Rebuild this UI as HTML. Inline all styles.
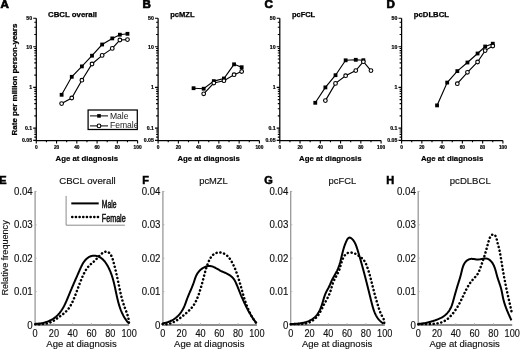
<!DOCTYPE html>
<html><head><meta charset="utf-8"><style>html,body{margin:0;padding:0;background:#fff;}svg{display:block;will-change:transform;}text{font-family:"Liberation Sans",sans-serif;}</style></head><body>
<svg xmlns="http://www.w3.org/2000/svg" width="520" height="350" viewBox="0 0 520 350">
<rect width="520" height="350" fill="#fff"/>
<path d="M36.3,18.25 V140.5 H137.6" fill="none" stroke="#000" stroke-width="1.25"/>
<path d="M36.3,18.25 h-3.1 M36.3,46.7 h-3.1 M36.3,87.4 h-3.1 M36.3,128.1 h-3.1 M36.3,140.35 h-3.1 M36.3,137.13 h-2 M36.3,134.4 h-2 M36.3,132.04 h-2 M36.3,129.96 h-2 M36.3,115.85 h-2 M36.3,108.68 h-2 M36.3,103.6 h-2 M36.3,99.65 h-2 M36.3,96.43 h-2 M36.3,93.7 h-2 M36.3,91.34 h-2 M36.3,89.26 h-2 M36.3,75.15 h-2 M36.3,67.98 h-2 M36.3,62.9 h-2 M36.3,58.95 h-2 M36.3,55.73 h-2 M36.3,53 h-2 M36.3,50.64 h-2 M36.3,48.56 h-2 M36.3,34.45 h-2 M36.3,27.28 h-2 M36.3,22.2 h-2 M36.3,140.5 v3 M46.43,140.5 v1.8 M56.56,140.5 v3 M66.69,140.5 v1.8 M76.82,140.5 v3 M86.95,140.5 v1.8 M97.08,140.5 v3 M107.21,140.5 v1.8 M117.34,140.5 v3 M127.47,140.5 v1.8 M137.6,140.5 v3" fill="none" stroke="#000" stroke-width="1.1"/>
<text x="32.1" y="20.05" font-size="5.2" font-weight="bold" stroke="#000" stroke-width="0.2" text-anchor="end">50</text>
<text x="32.1" y="48.5" font-size="5.2" font-weight="bold" stroke="#000" stroke-width="0.2" text-anchor="end">10</text>
<text x="32.1" y="89.2" font-size="5.2" font-weight="bold" stroke="#000" stroke-width="0.2" text-anchor="end">1</text>
<text x="32.1" y="129.9" font-size="5.2" font-weight="bold" stroke="#000" stroke-width="0.2" text-anchor="end">0.1</text>
<text x="32.1" y="142.15" font-size="5.2" font-weight="bold" stroke="#000" stroke-width="0.2" text-anchor="end">0.05</text>
<text x="36.3" y="148.5" font-size="4.8" font-weight="bold" stroke="#000" stroke-width="0.2" text-anchor="middle">0</text>
<text x="56.56" y="148.5" font-size="4.8" font-weight="bold" stroke="#000" stroke-width="0.2" text-anchor="middle">20</text>
<text x="76.82" y="148.5" font-size="4.8" font-weight="bold" stroke="#000" stroke-width="0.2" text-anchor="middle">40</text>
<text x="97.08" y="148.5" font-size="4.8" font-weight="bold" stroke="#000" stroke-width="0.2" text-anchor="middle">60</text>
<text x="117.34" y="148.5" font-size="4.8" font-weight="bold" stroke="#000" stroke-width="0.2" text-anchor="middle">80</text>
<text x="137.6" y="148.5" font-size="4.8" font-weight="bold" stroke="#000" stroke-width="0.2" text-anchor="middle">100</text>
<text x="86.8" y="161.2" font-size="7.8" font-weight="bold" stroke="#000" stroke-width="0.18" text-anchor="middle">Age at diagnosis</text>
<text x="48" y="17.1" font-size="7.6" font-weight="bold" stroke="#000" stroke-width="0.25" textLength="49" lengthAdjust="spacingAndGlyphs">CBCL overall</text>
<polyline points="61.62,94.8 71.75,76.8 81.88,66.4 92.01,55.7 102.14,44.5 112.27,38.4 119.87,34.7 127.47,33.8" fill="none" stroke="#000" stroke-width="1.15"/>
<polyline points="61.62,103.6 71.75,98 81.88,80.2 92.01,64 102.14,55.4 112.27,48.4 119.87,40 127.47,39.6" fill="none" stroke="#000" stroke-width="1.15"/>
<rect x="59.72" y="92.9" width="3.8" height="3.8" fill="#000"/>
<rect x="69.85" y="74.9" width="3.8" height="3.8" fill="#000"/>
<rect x="79.98" y="64.5" width="3.8" height="3.8" fill="#000"/>
<rect x="90.11" y="53.8" width="3.8" height="3.8" fill="#000"/>
<rect x="100.24" y="42.6" width="3.8" height="3.8" fill="#000"/>
<rect x="110.37" y="36.5" width="3.8" height="3.8" fill="#000"/>
<rect x="117.97" y="32.8" width="3.8" height="3.8" fill="#000"/>
<rect x="125.57" y="31.9" width="3.8" height="3.8" fill="#000"/>
<circle cx="61.62" cy="103.6" r="1.85" fill="#fff" stroke="#000" stroke-width="1.1"/>
<circle cx="71.75" cy="98" r="1.85" fill="#fff" stroke="#000" stroke-width="1.1"/>
<circle cx="81.88" cy="80.2" r="1.85" fill="#fff" stroke="#000" stroke-width="1.1"/>
<circle cx="92.01" cy="64" r="1.85" fill="#fff" stroke="#000" stroke-width="1.1"/>
<circle cx="102.14" cy="55.4" r="1.85" fill="#fff" stroke="#000" stroke-width="1.1"/>
<circle cx="112.27" cy="48.4" r="1.85" fill="#fff" stroke="#000" stroke-width="1.1"/>
<circle cx="119.87" cy="40" r="1.85" fill="#fff" stroke="#000" stroke-width="1.1"/>
<circle cx="127.47" cy="39.6" r="1.85" fill="#fff" stroke="#000" stroke-width="1.1"/>
<path d="M158.1,18.25 V140.5 H259.4" fill="none" stroke="#000" stroke-width="1.25"/>
<path d="M158.1,18.25 h-3.1 M158.1,46.7 h-3.1 M158.1,87.4 h-3.1 M158.1,128.1 h-3.1 M158.1,140.35 h-3.1 M158.1,137.13 h-2 M158.1,134.4 h-2 M158.1,132.04 h-2 M158.1,129.96 h-2 M158.1,115.85 h-2 M158.1,108.68 h-2 M158.1,103.6 h-2 M158.1,99.65 h-2 M158.1,96.43 h-2 M158.1,93.7 h-2 M158.1,91.34 h-2 M158.1,89.26 h-2 M158.1,75.15 h-2 M158.1,67.98 h-2 M158.1,62.9 h-2 M158.1,58.95 h-2 M158.1,55.73 h-2 M158.1,53 h-2 M158.1,50.64 h-2 M158.1,48.56 h-2 M158.1,34.45 h-2 M158.1,27.28 h-2 M158.1,22.2 h-2 M158.1,140.5 v3 M168.23,140.5 v1.8 M178.36,140.5 v3 M188.49,140.5 v1.8 M198.62,140.5 v3 M208.75,140.5 v1.8 M218.88,140.5 v3 M229.01,140.5 v1.8 M239.14,140.5 v3 M249.27,140.5 v1.8 M259.4,140.5 v3" fill="none" stroke="#000" stroke-width="1.1"/>
<text x="153.9" y="20.05" font-size="5.2" font-weight="bold" stroke="#000" stroke-width="0.2" text-anchor="end">50</text>
<text x="153.9" y="48.5" font-size="5.2" font-weight="bold" stroke="#000" stroke-width="0.2" text-anchor="end">10</text>
<text x="153.9" y="89.2" font-size="5.2" font-weight="bold" stroke="#000" stroke-width="0.2" text-anchor="end">1</text>
<text x="153.9" y="129.9" font-size="5.2" font-weight="bold" stroke="#000" stroke-width="0.2" text-anchor="end">0.1</text>
<text x="153.9" y="142.15" font-size="5.2" font-weight="bold" stroke="#000" stroke-width="0.2" text-anchor="end">0.05</text>
<text x="158.1" y="148.5" font-size="4.8" font-weight="bold" stroke="#000" stroke-width="0.2" text-anchor="middle">0</text>
<text x="178.36" y="148.5" font-size="4.8" font-weight="bold" stroke="#000" stroke-width="0.2" text-anchor="middle">20</text>
<text x="198.62" y="148.5" font-size="4.8" font-weight="bold" stroke="#000" stroke-width="0.2" text-anchor="middle">40</text>
<text x="218.88" y="148.5" font-size="4.8" font-weight="bold" stroke="#000" stroke-width="0.2" text-anchor="middle">60</text>
<text x="239.14" y="148.5" font-size="4.8" font-weight="bold" stroke="#000" stroke-width="0.2" text-anchor="middle">80</text>
<text x="259.4" y="148.5" font-size="4.8" font-weight="bold" stroke="#000" stroke-width="0.2" text-anchor="middle">100</text>
<text x="208.6" y="161.2" font-size="7.8" font-weight="bold" stroke="#000" stroke-width="0.18" text-anchor="middle">Age at diagnosis</text>
<text x="170.2" y="17.1" font-size="7.6" font-weight="bold" stroke="#000" stroke-width="0.25" textLength="24.4" lengthAdjust="spacingAndGlyphs">pcMZL</text>
<polyline points="193.56,88.2 203.69,88.7 213.81,81.1 223.94,78.5 234.07,64.3 241.67,67.2" fill="none" stroke="#000" stroke-width="1.15"/>
<polyline points="203.69,93.8 213.81,83 223.94,80.7 234.07,74.7 241.67,71.5" fill="none" stroke="#000" stroke-width="1.15"/>
<rect x="191.66" y="86.3" width="3.8" height="3.8" fill="#000"/>
<rect x="201.78" y="86.8" width="3.8" height="3.8" fill="#000"/>
<rect x="211.91" y="79.2" width="3.8" height="3.8" fill="#000"/>
<rect x="222.04" y="76.6" width="3.8" height="3.8" fill="#000"/>
<rect x="232.17" y="62.4" width="3.8" height="3.8" fill="#000"/>
<rect x="239.77" y="65.3" width="3.8" height="3.8" fill="#000"/>
<circle cx="203.69" cy="93.8" r="1.85" fill="#fff" stroke="#000" stroke-width="1.1"/>
<circle cx="213.81" cy="83" r="1.85" fill="#fff" stroke="#000" stroke-width="1.1"/>
<circle cx="223.94" cy="80.7" r="1.85" fill="#fff" stroke="#000" stroke-width="1.1"/>
<circle cx="234.07" cy="74.7" r="1.85" fill="#fff" stroke="#000" stroke-width="1.1"/>
<circle cx="241.67" cy="71.5" r="1.85" fill="#fff" stroke="#000" stroke-width="1.1"/>
<path d="M279.8,18.25 V140.5 H381.1" fill="none" stroke="#000" stroke-width="1.25"/>
<path d="M279.8,18.25 h-3.1 M279.8,46.7 h-3.1 M279.8,87.4 h-3.1 M279.8,128.1 h-3.1 M279.8,140.35 h-3.1 M279.8,137.13 h-2 M279.8,134.4 h-2 M279.8,132.04 h-2 M279.8,129.96 h-2 M279.8,115.85 h-2 M279.8,108.68 h-2 M279.8,103.6 h-2 M279.8,99.65 h-2 M279.8,96.43 h-2 M279.8,93.7 h-2 M279.8,91.34 h-2 M279.8,89.26 h-2 M279.8,75.15 h-2 M279.8,67.98 h-2 M279.8,62.9 h-2 M279.8,58.95 h-2 M279.8,55.73 h-2 M279.8,53 h-2 M279.8,50.64 h-2 M279.8,48.56 h-2 M279.8,34.45 h-2 M279.8,27.28 h-2 M279.8,22.2 h-2 M279.8,140.5 v3 M289.93,140.5 v1.8 M300.06,140.5 v3 M310.19,140.5 v1.8 M320.32,140.5 v3 M330.45,140.5 v1.8 M340.58,140.5 v3 M350.71,140.5 v1.8 M360.84,140.5 v3 M370.97,140.5 v1.8 M381.1,140.5 v3" fill="none" stroke="#000" stroke-width="1.1"/>
<text x="275.6" y="20.05" font-size="5.2" font-weight="bold" stroke="#000" stroke-width="0.2" text-anchor="end">50</text>
<text x="275.6" y="48.5" font-size="5.2" font-weight="bold" stroke="#000" stroke-width="0.2" text-anchor="end">10</text>
<text x="275.6" y="89.2" font-size="5.2" font-weight="bold" stroke="#000" stroke-width="0.2" text-anchor="end">1</text>
<text x="275.6" y="129.9" font-size="5.2" font-weight="bold" stroke="#000" stroke-width="0.2" text-anchor="end">0.1</text>
<text x="275.6" y="142.15" font-size="5.2" font-weight="bold" stroke="#000" stroke-width="0.2" text-anchor="end">0.05</text>
<text x="279.8" y="148.5" font-size="4.8" font-weight="bold" stroke="#000" stroke-width="0.2" text-anchor="middle">0</text>
<text x="300.06" y="148.5" font-size="4.8" font-weight="bold" stroke="#000" stroke-width="0.2" text-anchor="middle">20</text>
<text x="320.32" y="148.5" font-size="4.8" font-weight="bold" stroke="#000" stroke-width="0.2" text-anchor="middle">40</text>
<text x="340.58" y="148.5" font-size="4.8" font-weight="bold" stroke="#000" stroke-width="0.2" text-anchor="middle">60</text>
<text x="360.84" y="148.5" font-size="4.8" font-weight="bold" stroke="#000" stroke-width="0.2" text-anchor="middle">80</text>
<text x="381.1" y="148.5" font-size="4.8" font-weight="bold" stroke="#000" stroke-width="0.2" text-anchor="middle">100</text>
<text x="330.3" y="161.2" font-size="7.8" font-weight="bold" stroke="#000" stroke-width="0.18" text-anchor="middle">Age at diagnosis</text>
<text x="291.9" y="17.1" font-size="7.6" font-weight="bold" stroke="#000" stroke-width="0.25" textLength="23.3" lengthAdjust="spacingAndGlyphs">pcFCL</text>
<polyline points="315.25,102.8 325.38,87.4 335.51,75.2 345.64,60.3 355.77,59.8 363.37,60.2" fill="none" stroke="#000" stroke-width="1.15"/>
<polyline points="325.38,100.6 335.51,83.4 345.64,75.7 355.77,70.6 363.37,61.7 370.97,70.6" fill="none" stroke="#000" stroke-width="1.15"/>
<rect x="313.36" y="100.9" width="3.8" height="3.8" fill="#000"/>
<rect x="323.49" y="85.5" width="3.8" height="3.8" fill="#000"/>
<rect x="333.62" y="73.3" width="3.8" height="3.8" fill="#000"/>
<rect x="343.75" y="58.4" width="3.8" height="3.8" fill="#000"/>
<rect x="353.88" y="57.9" width="3.8" height="3.8" fill="#000"/>
<rect x="361.47" y="58.3" width="3.8" height="3.8" fill="#000"/>
<circle cx="325.38" cy="100.6" r="1.85" fill="#fff" stroke="#000" stroke-width="1.1"/>
<circle cx="335.51" cy="83.4" r="1.85" fill="#fff" stroke="#000" stroke-width="1.1"/>
<circle cx="345.64" cy="75.7" r="1.85" fill="#fff" stroke="#000" stroke-width="1.1"/>
<circle cx="355.77" cy="70.6" r="1.85" fill="#fff" stroke="#000" stroke-width="1.1"/>
<circle cx="363.37" cy="61.7" r="1.85" fill="#fff" stroke="#000" stroke-width="1.1"/>
<circle cx="370.97" cy="70.6" r="1.85" fill="#fff" stroke="#000" stroke-width="1.1"/>
<path d="M401.6,18.25 V140.5 H502.9" fill="none" stroke="#000" stroke-width="1.25"/>
<path d="M401.6,18.25 h-3.1 M401.6,46.7 h-3.1 M401.6,87.4 h-3.1 M401.6,128.1 h-3.1 M401.6,140.35 h-3.1 M401.6,137.13 h-2 M401.6,134.4 h-2 M401.6,132.04 h-2 M401.6,129.96 h-2 M401.6,115.85 h-2 M401.6,108.68 h-2 M401.6,103.6 h-2 M401.6,99.65 h-2 M401.6,96.43 h-2 M401.6,93.7 h-2 M401.6,91.34 h-2 M401.6,89.26 h-2 M401.6,75.15 h-2 M401.6,67.98 h-2 M401.6,62.9 h-2 M401.6,58.95 h-2 M401.6,55.73 h-2 M401.6,53 h-2 M401.6,50.64 h-2 M401.6,48.56 h-2 M401.6,34.45 h-2 M401.6,27.28 h-2 M401.6,22.2 h-2 M401.6,140.5 v3 M411.73,140.5 v1.8 M421.86,140.5 v3 M431.99,140.5 v1.8 M442.12,140.5 v3 M452.25,140.5 v1.8 M462.38,140.5 v3 M472.51,140.5 v1.8 M482.64,140.5 v3 M492.77,140.5 v1.8 M502.9,140.5 v3" fill="none" stroke="#000" stroke-width="1.1"/>
<text x="397.4" y="20.05" font-size="5.2" font-weight="bold" stroke="#000" stroke-width="0.2" text-anchor="end">50</text>
<text x="397.4" y="48.5" font-size="5.2" font-weight="bold" stroke="#000" stroke-width="0.2" text-anchor="end">10</text>
<text x="397.4" y="89.2" font-size="5.2" font-weight="bold" stroke="#000" stroke-width="0.2" text-anchor="end">1</text>
<text x="397.4" y="129.9" font-size="5.2" font-weight="bold" stroke="#000" stroke-width="0.2" text-anchor="end">0.1</text>
<text x="397.4" y="142.15" font-size="5.2" font-weight="bold" stroke="#000" stroke-width="0.2" text-anchor="end">0.05</text>
<text x="401.6" y="148.5" font-size="4.8" font-weight="bold" stroke="#000" stroke-width="0.2" text-anchor="middle">0</text>
<text x="421.86" y="148.5" font-size="4.8" font-weight="bold" stroke="#000" stroke-width="0.2" text-anchor="middle">20</text>
<text x="442.12" y="148.5" font-size="4.8" font-weight="bold" stroke="#000" stroke-width="0.2" text-anchor="middle">40</text>
<text x="462.38" y="148.5" font-size="4.8" font-weight="bold" stroke="#000" stroke-width="0.2" text-anchor="middle">60</text>
<text x="482.64" y="148.5" font-size="4.8" font-weight="bold" stroke="#000" stroke-width="0.2" text-anchor="middle">80</text>
<text x="502.9" y="148.5" font-size="4.8" font-weight="bold" stroke="#000" stroke-width="0.2" text-anchor="middle">100</text>
<text x="452.1" y="161.2" font-size="7.8" font-weight="bold" stroke="#000" stroke-width="0.18" text-anchor="middle">Age at diagnosis</text>
<text x="413.8" y="17.1" font-size="7.6" font-weight="bold" stroke="#000" stroke-width="0.25" textLength="35.2" lengthAdjust="spacingAndGlyphs">pcDLBCL</text>
<polyline points="437.06,105.4 447.19,82.6 457.31,71.1 467.45,62.5 477.58,53.5 485.17,46.5 492.77,43.7" fill="none" stroke="#000" stroke-width="1.15"/>
<polyline points="457.31,83.7 467.45,72.3 477.58,62 485.17,50.6 492.77,46" fill="none" stroke="#000" stroke-width="1.15"/>
<rect x="435.16" y="103.5" width="3.8" height="3.8" fill="#000"/>
<rect x="445.29" y="80.7" width="3.8" height="3.8" fill="#000"/>
<rect x="455.42" y="69.2" width="3.8" height="3.8" fill="#000"/>
<rect x="465.55" y="60.6" width="3.8" height="3.8" fill="#000"/>
<rect x="475.68" y="51.6" width="3.8" height="3.8" fill="#000"/>
<rect x="483.27" y="44.6" width="3.8" height="3.8" fill="#000"/>
<rect x="490.87" y="41.8" width="3.8" height="3.8" fill="#000"/>
<circle cx="457.31" cy="83.7" r="1.85" fill="#fff" stroke="#000" stroke-width="1.1"/>
<circle cx="467.45" cy="72.3" r="1.85" fill="#fff" stroke="#000" stroke-width="1.1"/>
<circle cx="477.58" cy="62" r="1.85" fill="#fff" stroke="#000" stroke-width="1.1"/>
<circle cx="485.17" cy="50.6" r="1.85" fill="#fff" stroke="#000" stroke-width="1.1"/>
<circle cx="492.77" cy="46" r="1.85" fill="#fff" stroke="#000" stroke-width="1.1"/>
<text x="0.6" y="8.2" font-size="11.6" font-weight="bold" stroke="#000" stroke-width="0.7">A</text>
<text x="142.5" y="8.2" font-size="11.6" font-weight="bold" stroke="#000" stroke-width="0.7">B</text>
<text x="264.5" y="8.2" font-size="11.6" font-weight="bold" stroke="#000" stroke-width="0.7">C</text>
<text x="386.6" y="8.2" font-size="11.6" font-weight="bold" stroke="#000" stroke-width="0.7">D</text>
<text transform="translate(16.7,135.4) rotate(-90)" font-size="8" font-weight="bold" stroke="#000" stroke-width="0.25" textLength="111.7" lengthAdjust="spacingAndGlyphs">Rate per million person-years</text>
<rect x="88.1" y="110" width="49.2" height="19.5" fill="#fff" stroke="#000" stroke-width="1.25"/>
<path d="M90,115.9 H108 M90,125.9 H108" stroke="#000" stroke-width="1"/>
<rect x="97.2" y="114.1" width="3.6" height="3.6" fill="#000"/>
<circle cx="99" cy="125.9" r="1.85" fill="#fff" stroke="#000" stroke-width="1.1"/>
<text x="109.9" y="118.5" font-size="8.6" fill="#222">Male</text>
<text x="109.9" y="127.9" font-size="8.6" fill="#222">Female</text>
<path d="M35.1,191.1 V325" fill="none" stroke="#999" stroke-width="1.3"/>
<path d="M34.5,325 H129.1" fill="none" stroke="#6a6a6a" stroke-width="1.3"/>
<path d="M53.9,325 v-2 M72.7,325 v-2 M91.5,325 v-2 M110.3,325 v-2 M35.1,291.6 h1.6 M35.1,258.2 h1.6 M35.1,224.8 h1.6 M35.1,191.4 h1.6" fill="none" stroke="#aaa" stroke-width="0.8"/>
<text x="27.32" y="328.6" font-size="10.4" fill="#111" stroke="#111" stroke-width="0.15" textLength="5.38" lengthAdjust="spacingAndGlyphs">0</text>
<text x="13.88" y="295.2" font-size="10.4" fill="#111" stroke="#111" stroke-width="0.15" textLength="18.82" lengthAdjust="spacingAndGlyphs">0.01</text>
<text x="13.88" y="261.8" font-size="10.4" fill="#111" stroke="#111" stroke-width="0.15" textLength="18.82" lengthAdjust="spacingAndGlyphs">0.02</text>
<text x="13.88" y="228.4" font-size="10.4" fill="#111" stroke="#111" stroke-width="0.15" textLength="18.82" lengthAdjust="spacingAndGlyphs">0.03</text>
<text x="13.88" y="195" font-size="10.4" fill="#111" stroke="#111" stroke-width="0.15" textLength="18.82" lengthAdjust="spacingAndGlyphs">0.04</text>
<text x="32.56" y="336.6" font-size="10.4" fill="#111" stroke="#111" stroke-width="0.15" textLength="5.09" lengthAdjust="spacingAndGlyphs">0</text>
<text x="48.81" y="336.6" font-size="10.4" fill="#111" stroke="#111" stroke-width="0.15" textLength="10.18" lengthAdjust="spacingAndGlyphs">20</text>
<text x="67.61" y="336.6" font-size="10.4" fill="#111" stroke="#111" stroke-width="0.15" textLength="10.18" lengthAdjust="spacingAndGlyphs">40</text>
<text x="86.41" y="336.6" font-size="10.4" fill="#111" stroke="#111" stroke-width="0.15" textLength="10.18" lengthAdjust="spacingAndGlyphs">60</text>
<text x="105.21" y="336.6" font-size="10.4" fill="#111" stroke="#111" stroke-width="0.15" textLength="10.18" lengthAdjust="spacingAndGlyphs">80</text>
<text x="121.47" y="336.6" font-size="10.4" fill="#111" stroke="#111" stroke-width="0.15" textLength="15.27" lengthAdjust="spacingAndGlyphs">100</text>
<text x="46.3" y="347.2" font-size="9.4" fill="#111" stroke="#111" stroke-width="0.15" textLength="70.4" lengthAdjust="spacingAndGlyphs">Age at diagnosis</text>
<text x="59.2" y="183.8" font-size="8.6" fill="#111" stroke="#111" stroke-width="0.15" textLength="56.5" lengthAdjust="spacingAndGlyphs">CBCL overall</text>
<path d="M35.21,323.65 L35.79,323.67 L36.37,323.67 L36.96,323.67 L37.54,323.65 L38.13,323.63 L38.72,323.59 L39.3,323.54 L39.89,323.47 L40.48,323.4 L41.07,323.32 L41.65,323.22 L42.24,323.11 L42.82,323 L43.4,322.87 L43.98,322.73 L44.56,322.58 L45.13,322.41 L45.7,322.24 L46.27,322.06 L46.83,321.87 L47.39,321.66 L47.95,321.45 L48.5,321.22 L49.05,320.99 L49.59,320.74 L50.13,320.48 L50.66,320.22 L51.18,319.94 L51.7,319.66 L52.21,319.36 L52.72,319.05 L53.22,318.74 L53.71,318.41 L54.19,318.08 L54.67,317.74 L55.14,317.38 L55.59,317.02 L56.04,316.65 L56.48,316.26 L56.91,315.87 L57.34,315.47 L57.75,315.06 L58.15,314.65 L58.54,314.22 L58.93,313.79 L59.31,313.34 L59.67,312.89 L60.04,312.44 L60.39,311.97 L60.73,311.5 L61.07,311.03 L61.4,310.54 L61.72,310.05 L62.04,309.56 L62.35,309.06 L62.66,308.55 L62.95,308.04 L63.25,307.53 L63.54,307.01 L63.82,306.48 L64.09,305.96 L64.37,305.43 L64.63,304.89 L64.9,304.35 L65.16,303.81 L65.41,303.27 L65.66,302.72 L65.91,302.18 L66.16,301.63 L66.4,301.08 L66.64,300.52 L66.88,299.97 L67.11,299.42 L67.34,298.86 L67.57,298.31 L67.8,297.75 L68.03,297.2 L68.26,296.64 L68.49,296.09 L68.71,295.54 L68.94,294.99 L69.16,294.44 L69.39,293.89 L69.61,293.34 L69.84,292.8 L70.06,292.26 L70.29,291.72 L70.51,291.18 L70.74,290.64 L70.97,290.1 L71.19,289.56 L71.42,289.03 L71.65,288.5 L71.87,287.96 L72.1,287.43 L72.33,286.9 L72.56,286.37 L72.79,285.84 L73.02,285.31 L73.25,284.78 L73.48,284.25 L73.71,283.72 L73.94,283.19 L74.17,282.66 L74.4,282.13 L74.63,281.6 L74.86,281.07 L75.1,280.53 L75.33,280 L75.56,279.47 L75.8,278.93 L76.03,278.4 L76.27,277.86 L76.5,277.33 L76.74,276.79 L76.98,276.25 L77.22,275.71 L77.45,275.16 L77.69,274.62 L77.93,274.07 L78.17,273.52 L78.42,272.97 L78.66,272.42 L78.9,271.87 L79.14,271.31 L79.39,270.75 L79.63,270.19 L79.88,269.63 L80.13,269.06 L80.38,268.5 L80.63,267.93 L80.89,267.37 L81.15,266.81 L81.42,266.26 L81.69,265.71 L81.97,265.16 L82.26,264.62 L82.55,264.09 L82.86,263.57 L83.17,263.05 L83.49,262.54 L83.82,262.05 L84.16,261.56 L84.51,261.09 L84.88,260.63 L85.25,260.18 L85.64,259.75 L86.05,259.33 L86.46,258.93 L86.9,258.54 L87.34,258.18 L87.8,257.83 L88.28,257.51 L88.76,257.2 L89.25,256.93 L89.76,256.67 L90.27,256.44 L90.8,256.24 L91.33,256.07 L91.86,255.93 L92.41,255.82 L92.95,255.75 L93.51,255.7 L94.06,255.69 L94.62,255.7 L95.17,255.75 L95.73,255.82 L96.29,255.92 L96.84,256.05 L97.39,256.21 L97.94,256.39 L98.48,256.6 L99.01,256.83 L99.53,257.09 L100.05,257.37 L100.56,257.67 L101.05,257.99 L101.53,258.34 L102,258.7 L102.46,259.08 L102.9,259.49 L103.33,259.91 L103.74,260.34 L104.14,260.79 L104.53,261.26 L104.91,261.73 L105.27,262.22 L105.63,262.71 L105.97,263.22 L106.31,263.73 L106.63,264.24 L106.95,264.76 L107.26,265.28 L107.56,265.81 L107.85,266.33 L108.14,266.86 L108.42,267.39 L108.69,267.92 L108.95,268.45 L109.21,268.99 L109.46,269.52 L109.7,270.06 L109.94,270.6 L110.17,271.14 L110.4,271.69 L110.62,272.23 L110.83,272.78 L111.04,273.33 L111.24,273.88 L111.44,274.43 L111.64,274.98 L111.82,275.53 L112.01,276.09 L112.19,276.65 L112.36,277.2 L112.53,277.76 L112.7,278.33 L112.86,278.89 L113.02,279.45 L113.18,280.02 L113.33,280.58 L113.48,281.15 L113.63,281.72 L113.77,282.29 L113.92,282.86 L114.06,283.43 L114.19,284.01 L114.33,284.58 L114.46,285.16 L114.59,285.73 L114.72,286.31 L114.85,286.89 L114.98,287.47 L115.1,288.05 L115.23,288.63 L115.35,289.21 L115.48,289.79 L115.6,290.38 L115.72,290.96 L115.84,291.54 L115.97,292.12 L116.09,292.71 L116.21,293.29 L116.34,293.87 L116.46,294.45 L116.59,295.04 L116.72,295.62 L116.84,296.2 L116.97,296.78 L117.11,297.36 L117.24,297.94 L117.37,298.52 L117.51,299.1 L117.65,299.67 L117.79,300.25 L117.93,300.83 L118.08,301.4 L118.23,301.97 L118.38,302.54 L118.54,303.11 L118.7,303.68 L118.86,304.25 L119.03,304.81 L119.2,305.38 L119.37,305.94 L119.55,306.5 L119.73,307.06 L119.92,307.61 L120.11,308.17 L120.31,308.72 L120.51,309.27 L120.72,309.81 L120.93,310.36 L121.15,310.9 L121.37,311.44 L121.6,311.97 L121.83,312.51 L122.08,313.04 L122.32,313.56 L122.58,314.09 L122.84,314.61 L123.11,315.13 L123.38,315.64 L123.66,316.16 L123.95,316.66 L124.25,317.17 L124.55,317.67 L124.87,318.17 L125.19,318.66 L125.52,319.15 L125.85,319.64 L126.2,320.12 L126.55,320.59 L126.91,321.07 L127.28,321.54 L127.67,322 L128.06,322.46 L128.45,322.92 L128.86,323.37" fill="none" stroke="#000" stroke-width="2"/>
<path d="M35.21,324.31 L35.81,324.28 L36.41,324.26 L37.02,324.24 L37.63,324.22 L38.25,324.21 L38.88,324.19 L39.51,324.17 L40.14,324.15 L40.77,324.12 L41.41,324.09 L42.04,324.06 L42.68,324.01 L43.31,323.96 L43.95,323.9 L44.58,323.84 L45.21,323.75 L45.83,323.66 L46.46,323.56 L47.07,323.44 L47.68,323.3 L48.28,323.15 L48.88,322.98 L49.47,322.8 L50.05,322.59 L50.61,322.36 L51.17,322.12 L51.72,321.85 L52.27,321.57 L52.8,321.27 L53.33,320.95 L53.85,320.63 L54.37,320.29 L54.88,319.95 L55.4,319.59 L55.9,319.23 L56.41,318.87 L56.92,318.51 L57.43,318.14 L57.94,317.77 L58.45,317.41 L58.96,317.05 L59.48,316.68 L59.99,316.32 L60.5,315.95 L61.01,315.58 L61.51,315.21 L62.02,314.84 L62.51,314.46 L63.01,314.08 L63.5,313.69 L63.98,313.3 L64.46,312.9 L64.92,312.5 L65.38,312.09 L65.84,311.67 L66.28,311.24 L66.71,310.8 L67.13,310.36 L67.54,309.9 L67.94,309.43 L68.33,308.95 L68.7,308.46 L69.06,307.96 L69.41,307.46 L69.76,306.94 L70.09,306.41 L70.41,305.88 L70.72,305.34 L71.03,304.8 L71.32,304.24 L71.61,303.69 L71.89,303.13 L72.17,302.56 L72.44,301.99 L72.7,301.42 L72.96,300.84 L73.21,300.27 L73.46,299.69 L73.71,299.11 L73.95,298.53 L74.19,297.95 L74.43,297.38 L74.66,296.8 L74.89,296.22 L75.12,295.64 L75.35,295.06 L75.57,294.48 L75.8,293.9 L76.02,293.32 L76.24,292.75 L76.46,292.17 L76.67,291.59 L76.89,291.01 L77.11,290.43 L77.32,289.85 L77.54,289.27 L77.75,288.69 L77.97,288.12 L78.18,287.54 L78.4,286.96 L78.62,286.38 L78.83,285.8 L79.05,285.22 L79.27,284.64 L79.49,284.06 L79.71,283.48 L79.94,282.9 L80.16,282.32 L80.39,281.74 L80.62,281.17 L80.85,280.59 L81.08,280.01 L81.32,279.43 L81.56,278.85 L81.8,278.27 L82.05,277.69 L82.3,277.11 L82.55,276.53 L82.81,275.95 L83.07,275.37 L83.34,274.79 L83.61,274.21 L83.88,273.64 L84.17,273.07 L84.45,272.51 L84.75,271.95 L85.05,271.4 L85.36,270.85 L85.68,270.31 L86.01,269.78 L86.34,269.26 L86.68,268.75 L87.04,268.24 L87.4,267.75 L87.77,267.27 L88.16,266.8 L88.55,266.34 L88.96,265.9 L89.37,265.47 L89.8,265.05 L90.23,264.63 L90.68,264.23 L91.13,263.83 L91.59,263.44 L92.05,263.05 L92.51,262.65 L92.98,262.26 L93.45,261.86 L93.92,261.45 L94.38,261.04 L94.85,260.61 L95.31,260.18 L95.77,259.73 L96.23,259.26 L96.68,258.79 L97.13,258.3 L97.57,257.81 L98.02,257.31 L98.47,256.82 L98.91,256.33 L99.36,255.84 L99.82,255.37 L100.28,254.9 L100.74,254.46 L101.22,254.03 L101.7,253.63 L102.19,253.25 L102.69,252.9 L103.2,252.58 L103.73,252.29 L104.26,252.05 L104.81,251.85 L105.35,251.71 L105.88,251.63 L106.41,251.61 L106.93,251.66 L107.43,251.78 L107.91,251.98 L108.37,252.23 L108.82,252.55 L109.25,252.92 L109.66,253.34 L110.05,253.8 L110.42,254.3 L110.77,254.83 L111.1,255.39 L111.41,255.96 L111.7,256.56 L111.97,257.16 L112.21,257.77 L112.43,258.38 L112.64,258.99 L112.83,259.6 L113,260.22 L113.17,260.83 L113.34,261.44 L113.5,262.05 L113.66,262.67 L113.82,263.28 L113.98,263.89 L114.14,264.49 L114.29,265.1 L114.45,265.71 L114.6,266.32 L114.75,266.92 L114.9,267.53 L115.05,268.13 L115.2,268.74 L115.35,269.34 L115.5,269.95 L115.64,270.55 L115.79,271.16 L115.93,271.76 L116.07,272.37 L116.21,272.97 L116.35,273.57 L116.49,274.18 L116.63,274.78 L116.77,275.38 L116.9,275.99 L117.04,276.59 L117.17,277.19 L117.31,277.8 L117.44,278.4 L117.57,279.01 L117.7,279.61 L117.83,280.22 L117.96,280.82 L118.09,281.43 L118.22,282.04 L118.35,282.64 L118.48,283.25 L118.6,283.86 L118.73,284.47 L118.86,285.08 L118.98,285.69 L119.11,286.3 L119.24,286.91 L119.36,287.52 L119.49,288.13 L119.62,288.74 L119.75,289.35 L119.88,289.96 L120.01,290.57 L120.14,291.18 L120.27,291.79 L120.41,292.4 L120.54,293.01 L120.68,293.62 L120.82,294.23 L120.96,294.84 L121.11,295.45 L121.25,296.06 L121.4,296.66 L121.56,297.27 L121.71,297.87 L121.87,298.48 L122.03,299.08 L122.19,299.68 L122.36,300.28 L122.53,300.88 L122.71,301.48 L122.89,302.08 L123.07,302.67 L123.26,303.27 L123.45,303.86 L123.65,304.45 L123.85,305.04 L124.06,305.63 L124.27,306.21 L124.48,306.8 L124.7,307.38 L124.92,307.96 L125.14,308.55 L125.37,309.13 L125.59,309.71 L125.82,310.29 L126.04,310.87 L126.26,311.45 L126.48,312.03 L126.69,312.61 L126.9,313.2 L127.11,313.78 L127.31,314.37 L127.5,314.96 L127.68,315.55 L127.86,316.14 L128.02,316.73 L128.18,317.33 L128.33,317.93 L128.46,318.54 L128.58,319.14 L128.69,319.75 L128.79,320.37 L128.87,320.99 L128.93,321.61 L128.98,322.24 L129.01,322.87 L129.03,323.51" fill="none" stroke="#000" stroke-width="2.5" stroke-linecap="round" stroke-dasharray="0.15 3.7"/>
<path d="M162.9,191.1 V325" fill="none" stroke="#999" stroke-width="1.3"/>
<path d="M162.3,325 H256.9" fill="none" stroke="#6a6a6a" stroke-width="1.3"/>
<path d="M181.7,325 v-2 M200.5,325 v-2 M219.3,325 v-2 M238.1,325 v-2 M162.9,291.6 h1.6 M162.9,258.2 h1.6 M162.9,224.8 h1.6 M162.9,191.4 h1.6" fill="none" stroke="#aaa" stroke-width="0.8"/>
<text x="155.12" y="328.6" font-size="10.4" fill="#111" stroke="#111" stroke-width="0.15" textLength="5.38" lengthAdjust="spacingAndGlyphs">0</text>
<text x="141.68" y="295.2" font-size="10.4" fill="#111" stroke="#111" stroke-width="0.15" textLength="18.82" lengthAdjust="spacingAndGlyphs">0.01</text>
<text x="141.68" y="261.8" font-size="10.4" fill="#111" stroke="#111" stroke-width="0.15" textLength="18.82" lengthAdjust="spacingAndGlyphs">0.02</text>
<text x="141.68" y="228.4" font-size="10.4" fill="#111" stroke="#111" stroke-width="0.15" textLength="18.82" lengthAdjust="spacingAndGlyphs">0.03</text>
<text x="141.68" y="195" font-size="10.4" fill="#111" stroke="#111" stroke-width="0.15" textLength="18.82" lengthAdjust="spacingAndGlyphs">0.04</text>
<text x="160.36" y="336.6" font-size="10.4" fill="#111" stroke="#111" stroke-width="0.15" textLength="5.09" lengthAdjust="spacingAndGlyphs">0</text>
<text x="176.61" y="336.6" font-size="10.4" fill="#111" stroke="#111" stroke-width="0.15" textLength="10.18" lengthAdjust="spacingAndGlyphs">20</text>
<text x="195.41" y="336.6" font-size="10.4" fill="#111" stroke="#111" stroke-width="0.15" textLength="10.18" lengthAdjust="spacingAndGlyphs">40</text>
<text x="214.21" y="336.6" font-size="10.4" fill="#111" stroke="#111" stroke-width="0.15" textLength="10.18" lengthAdjust="spacingAndGlyphs">60</text>
<text x="233.01" y="336.6" font-size="10.4" fill="#111" stroke="#111" stroke-width="0.15" textLength="10.18" lengthAdjust="spacingAndGlyphs">80</text>
<text x="249.27" y="336.6" font-size="10.4" fill="#111" stroke="#111" stroke-width="0.15" textLength="15.27" lengthAdjust="spacingAndGlyphs">100</text>
<text x="174.1" y="347.2" font-size="9.4" fill="#111" stroke="#111" stroke-width="0.15" textLength="70.4" lengthAdjust="spacingAndGlyphs">Age at diagnosis</text>
<text x="199.2" y="183.8" font-size="8.6" fill="#111" stroke="#111" stroke-width="0.15" textLength="28.6" lengthAdjust="spacingAndGlyphs">pcMZL</text>
<path d="M162.55,323.33 L163.09,323.25 L163.62,323.16 L164.15,323.07 L164.67,322.97 L165.19,322.85 L165.71,322.73 L166.23,322.6 L166.74,322.45 L167.25,322.3 L167.75,322.14 L168.25,321.98 L168.74,321.8 L169.23,321.61 L169.72,321.41 L170.2,321.21 L170.67,320.99 L171.14,320.77 L171.61,320.54 L172.07,320.29 L172.52,320.04 L172.97,319.78 L173.42,319.52 L173.86,319.24 L174.29,318.95 L174.71,318.66 L175.13,318.35 L175.55,318.04 L175.96,317.72 L176.36,317.39 L176.75,317.05 L177.14,316.71 L177.52,316.35 L177.9,315.99 L178.26,315.61 L178.63,315.23 L178.98,314.84 L179.32,314.45 L179.66,314.04 L180,313.63 L180.32,313.21 L180.64,312.79 L180.95,312.36 L181.25,311.92 L181.55,311.48 L181.84,311.03 L182.12,310.58 L182.39,310.13 L182.66,309.67 L182.92,309.2 L183.17,308.73 L183.42,308.26 L183.66,307.78 L183.89,307.31 L184.11,306.82 L184.32,306.34 L184.53,305.86 L184.74,305.37 L184.93,304.88 L185.12,304.39 L185.31,303.9 L185.49,303.41 L185.67,302.91 L185.85,302.42 L186.02,301.93 L186.2,301.43 L186.37,300.94 L186.54,300.45 L186.71,299.95 L186.89,299.46 L187.06,298.97 L187.24,298.48 L187.42,297.99 L187.61,297.5 L187.8,297.02 L187.99,296.53 L188.18,296.05 L188.38,295.57 L188.58,295.08 L188.78,294.6 L188.98,294.12 L189.19,293.64 L189.4,293.17 L189.6,292.69 L189.81,292.21 L190.02,291.73 L190.23,291.25 L190.44,290.77 L190.65,290.29 L190.86,289.81 L191.07,289.33 L191.28,288.85 L191.48,288.37 L191.69,287.89 L191.89,287.4 L192.09,286.92 L192.29,286.43 L192.49,285.94 L192.68,285.45 L192.87,284.96 L193.06,284.46 L193.24,283.97 L193.42,283.47 L193.6,282.97 L193.77,282.47 L193.94,281.96 L194.1,281.46 L194.27,280.95 L194.44,280.44 L194.6,279.94 L194.77,279.43 L194.94,278.93 L195.12,278.42 L195.3,277.92 L195.49,277.42 L195.68,276.93 L195.89,276.44 L196.1,275.96 L196.32,275.47 L196.56,275 L196.81,274.53 L197.07,274.07 L197.34,273.61 L197.63,273.17 L197.93,272.73 L198.25,272.3 L198.57,271.88 L198.91,271.47 L199.26,271.07 L199.63,270.68 L200,270.3 L200.38,269.93 L200.77,269.58 L201.18,269.24 L201.59,268.92 L202.01,268.6 L202.43,268.31 L202.87,268.03 L203.31,267.76 L203.76,267.51 L204.21,267.28 L204.67,267.07 L205.14,266.87 L205.61,266.7 L206.08,266.54 L206.56,266.4 L207.04,266.28 L207.53,266.19 L208.01,266.11 L208.5,266.06 L208.99,266.03 L209.49,266.02 L209.98,266.04 L210.47,266.08 L210.97,266.15 L211.46,266.24 L211.95,266.35 L212.44,266.5 L212.93,266.66 L213.42,266.85 L213.91,267.06 L214.39,267.28 L214.88,267.52 L215.37,267.77 L215.85,268.03 L216.33,268.31 L216.82,268.58 L217.3,268.87 L217.78,269.15 L218.26,269.44 L218.74,269.73 L219.22,270.01 L219.7,270.28 L220.18,270.55 L220.66,270.81 L221.15,271.05 L221.63,271.29 L222.11,271.51 L222.59,271.72 L223.07,271.93 L223.54,272.13 L224.02,272.33 L224.5,272.52 L224.97,272.72 L225.44,272.92 L225.92,273.13 L226.38,273.34 L226.85,273.57 L227.31,273.8 L227.77,274.04 L228.22,274.29 L228.67,274.56 L229.12,274.83 L229.55,275.11 L229.98,275.41 L230.4,275.71 L230.81,276.03 L231.22,276.36 L231.61,276.69 L231.99,277.04 L232.36,277.4 L232.72,277.77 L233.07,278.16 L233.4,278.55 L233.72,278.96 L234.02,279.38 L234.31,279.8 L234.58,280.24 L234.84,280.69 L235.1,281.15 L235.34,281.61 L235.57,282.08 L235.79,282.56 L236.01,283.04 L236.22,283.53 L236.43,284.01 L236.63,284.51 L236.84,285 L237.03,285.5 L237.23,285.99 L237.43,286.49 L237.63,286.98 L237.83,287.48 L238.02,287.97 L238.22,288.46 L238.42,288.96 L238.62,289.45 L238.82,289.94 L239.02,290.43 L239.22,290.92 L239.41,291.41 L239.62,291.9 L239.82,292.39 L240.02,292.88 L240.22,293.37 L240.42,293.86 L240.62,294.35 L240.83,294.83 L241.03,295.32 L241.24,295.8 L241.44,296.29 L241.65,296.77 L241.86,297.26 L242.07,297.74 L242.27,298.22 L242.49,298.7 L242.7,299.18 L242.91,299.66 L243.12,300.14 L243.34,300.62 L243.55,301.1 L243.77,301.58 L243.99,302.05 L244.21,302.53 L244.43,303 L244.66,303.48 L244.88,303.95 L245.11,304.42 L245.33,304.89 L245.56,305.36 L245.79,305.83 L246.03,306.3 L246.26,306.77 L246.5,307.23 L246.73,307.7 L246.97,308.16 L247.21,308.62 L247.46,309.09 L247.7,309.55 L247.95,310.01 L248.2,310.47 L248.45,310.93 L248.71,311.38 L248.96,311.84 L249.22,312.29 L249.48,312.75 L249.74,313.2 L250.01,313.65 L250.28,314.1 L250.55,314.55 L250.82,315 L251.09,315.44 L251.37,315.89 L251.65,316.33 L251.93,316.77 L252.22,317.21 L252.51,317.65 L252.8,318.09 L253.09,318.53 L253.39,318.97 L253.69,319.4 L253.99,319.83 L254.3,320.27 L254.61,320.7 L254.92,321.13 L255.23,321.55 L255.55,321.98 L255.87,322.41 L256.2,322.83 L256.53,323.25" fill="none" stroke="#000" stroke-width="2"/>
<path d="M162.54,324.12 L163.2,324.18 L163.85,324.22 L164.49,324.25 L165.13,324.24 L165.75,324.22 L166.37,324.18 L166.99,324.11 L167.59,324.03 L168.19,323.93 L168.78,323.81 L169.37,323.67 L169.95,323.52 L170.52,323.35 L171.09,323.16 L171.65,322.96 L172.2,322.74 L172.75,322.51 L173.3,322.27 L173.83,322.01 L174.37,321.74 L174.9,321.46 L175.42,321.17 L175.95,320.86 L176.46,320.55 L176.98,320.23 L177.48,319.9 L177.99,319.56 L178.49,319.21 L178.99,318.86 L179.49,318.5 L179.98,318.13 L180.47,317.76 L180.96,317.38 L181.45,317 L181.93,316.62 L182.42,316.23 L182.9,315.85 L183.38,315.46 L183.86,315.07 L184.33,314.67 L184.81,314.28 L185.28,313.89 L185.75,313.49 L186.22,313.09 L186.68,312.69 L187.15,312.28 L187.6,311.87 L188.05,311.46 L188.5,311.05 L188.94,310.63 L189.37,310.2 L189.8,309.77 L190.23,309.34 L190.64,308.9 L191.05,308.46 L191.45,308 L191.84,307.55 L192.23,307.08 L192.6,306.61 L192.97,306.14 L193.32,305.65 L193.67,305.16 L194,304.66 L194.33,304.15 L194.64,303.63 L194.95,303.11 L195.25,302.58 L195.54,302.05 L195.81,301.51 L196.09,300.96 L196.35,300.41 L196.61,299.85 L196.86,299.29 L197.1,298.73 L197.33,298.16 L197.56,297.59 L197.79,297.02 L198.01,296.44 L198.22,295.87 L198.43,295.29 L198.64,294.71 L198.84,294.13 L199.04,293.55 L199.23,292.96 L199.43,292.38 L199.62,291.8 L199.8,291.22 L199.98,290.64 L200.16,290.05 L200.34,289.47 L200.52,288.89 L200.69,288.3 L200.86,287.72 L201.03,287.13 L201.2,286.55 L201.36,285.96 L201.53,285.38 L201.69,284.79 L201.85,284.21 L202.01,283.62 L202.17,283.04 L202.32,282.45 L202.48,281.86 L202.64,281.28 L202.79,280.69 L202.94,280.11 L203.1,279.52 L203.25,278.93 L203.41,278.35 L203.56,277.76 L203.72,277.17 L203.87,276.59 L204.03,276 L204.18,275.41 L204.34,274.83 L204.5,274.24 L204.65,273.65 L204.81,273.07 L204.97,272.48 L205.14,271.9 L205.3,271.31 L205.47,270.72 L205.63,270.14 L205.81,269.55 L205.98,268.97 L206.16,268.38 L206.34,267.8 L206.52,267.21 L206.71,266.63 L206.91,266.05 L207.11,265.47 L207.32,264.89 L207.53,264.31 L207.75,263.73 L207.98,263.15 L208.21,262.58 L208.46,262 L208.71,261.43 L208.97,260.86 L209.24,260.29 L209.52,259.72 L209.81,259.16 L210.11,258.61 L210.43,258.07 L210.75,257.54 L211.1,257.03 L211.46,256.53 L211.83,256.05 L212.23,255.6 L212.64,255.17 L213.07,254.77 L213.52,254.4 L213.99,254.06 L214.49,253.75 L215,253.48 L215.53,253.24 L216.08,253.03 L216.64,252.86 L217.21,252.72 L217.8,252.62 L218.38,252.55 L218.98,252.51 L219.58,252.51 L220.18,252.55 L220.78,252.62 L221.37,252.72 L221.96,252.86 L222.55,253.03 L223.13,253.24 L223.69,253.47 L224.24,253.73 L224.78,254.01 L225.3,254.32 L225.81,254.65 L226.29,255.01 L226.76,255.38 L227.22,255.77 L227.66,256.19 L228.08,256.62 L228.49,257.06 L228.89,257.52 L229.27,258 L229.64,258.49 L230,258.99 L230.35,259.5 L230.69,260.02 L231.02,260.55 L231.33,261.09 L231.64,261.63 L231.95,262.18 L232.24,262.73 L232.53,263.29 L232.81,263.85 L233.08,264.41 L233.35,264.97 L233.62,265.53 L233.88,266.1 L234.13,266.66 L234.38,267.22 L234.62,267.79 L234.86,268.35 L235.1,268.92 L235.33,269.49 L235.56,270.05 L235.78,270.62 L236,271.19 L236.22,271.76 L236.43,272.33 L236.64,272.9 L236.84,273.47 L237.04,274.04 L237.24,274.61 L237.44,275.18 L237.63,275.76 L237.82,276.33 L238.01,276.9 L238.19,277.48 L238.38,278.06 L238.56,278.63 L238.73,279.21 L238.91,279.79 L239.09,280.37 L239.26,280.94 L239.43,281.52 L239.6,282.1 L239.77,282.68 L239.94,283.27 L240.11,283.85 L240.27,284.43 L240.44,285.01 L240.6,285.6 L240.77,286.18 L240.93,286.77 L241.09,287.36 L241.26,287.94 L241.42,288.53 L241.59,289.12 L241.75,289.7 L241.92,290.29 L242.08,290.88 L242.25,291.47 L242.41,292.06 L242.58,292.64 L242.75,293.23 L242.92,293.82 L243.09,294.41 L243.26,295 L243.43,295.58 L243.61,296.17 L243.78,296.76 L243.96,297.34 L244.14,297.93 L244.32,298.51 L244.5,299.1 L244.69,299.68 L244.88,300.26 L245.07,300.84 L245.26,301.42 L245.45,302 L245.65,302.58 L245.85,303.15 L246.05,303.73 L246.26,304.3 L246.47,304.88 L246.68,305.45 L246.9,306.02 L247.12,306.58 L247.34,307.15 L247.57,307.71 L247.8,308.28 L248.03,308.84 L248.27,309.4 L248.51,309.95 L248.76,310.51 L249.01,311.06 L249.26,311.61 L249.52,312.16 L249.79,312.7 L250.06,313.24 L250.33,313.78 L250.61,314.32 L250.9,314.86 L251.19,315.39 L251.48,315.92 L251.78,316.45 L252.09,316.97 L252.4,317.49 L252.71,318.01 L253.04,318.52 L253.37,319.03 L253.7,319.54 L254.04,320.05 L254.39,320.55 L254.74,321.05 L255.11,321.54 L255.47,322.03 L255.85,322.52 L256.23,323 L256.61,323.48" fill="none" stroke="#000" stroke-width="2.5" stroke-linecap="round" stroke-dasharray="0.15 3.7"/>
<path d="M290.7,191.1 V325" fill="none" stroke="#999" stroke-width="1.3"/>
<path d="M290.1,325 H384.7" fill="none" stroke="#6a6a6a" stroke-width="1.3"/>
<path d="M309.5,325 v-2 M328.3,325 v-2 M347.1,325 v-2 M365.9,325 v-2 M290.7,291.6 h1.6 M290.7,258.2 h1.6 M290.7,224.8 h1.6 M290.7,191.4 h1.6" fill="none" stroke="#aaa" stroke-width="0.8"/>
<text x="282.92" y="328.6" font-size="10.4" fill="#111" stroke="#111" stroke-width="0.15" textLength="5.38" lengthAdjust="spacingAndGlyphs">0</text>
<text x="269.48" y="295.2" font-size="10.4" fill="#111" stroke="#111" stroke-width="0.15" textLength="18.82" lengthAdjust="spacingAndGlyphs">0.01</text>
<text x="269.48" y="261.8" font-size="10.4" fill="#111" stroke="#111" stroke-width="0.15" textLength="18.82" lengthAdjust="spacingAndGlyphs">0.02</text>
<text x="269.48" y="228.4" font-size="10.4" fill="#111" stroke="#111" stroke-width="0.15" textLength="18.82" lengthAdjust="spacingAndGlyphs">0.03</text>
<text x="269.48" y="195" font-size="10.4" fill="#111" stroke="#111" stroke-width="0.15" textLength="18.82" lengthAdjust="spacingAndGlyphs">0.04</text>
<text x="288.16" y="336.6" font-size="10.4" fill="#111" stroke="#111" stroke-width="0.15" textLength="5.09" lengthAdjust="spacingAndGlyphs">0</text>
<text x="304.41" y="336.6" font-size="10.4" fill="#111" stroke="#111" stroke-width="0.15" textLength="10.18" lengthAdjust="spacingAndGlyphs">20</text>
<text x="323.21" y="336.6" font-size="10.4" fill="#111" stroke="#111" stroke-width="0.15" textLength="10.18" lengthAdjust="spacingAndGlyphs">40</text>
<text x="342.01" y="336.6" font-size="10.4" fill="#111" stroke="#111" stroke-width="0.15" textLength="10.18" lengthAdjust="spacingAndGlyphs">60</text>
<text x="360.81" y="336.6" font-size="10.4" fill="#111" stroke="#111" stroke-width="0.15" textLength="10.18" lengthAdjust="spacingAndGlyphs">80</text>
<text x="377.07" y="336.6" font-size="10.4" fill="#111" stroke="#111" stroke-width="0.15" textLength="15.27" lengthAdjust="spacingAndGlyphs">100</text>
<text x="301.9" y="347.2" font-size="9.4" fill="#111" stroke="#111" stroke-width="0.15" textLength="70.4" lengthAdjust="spacingAndGlyphs">Age at diagnosis</text>
<text x="328.6" y="183.8" font-size="8.6" fill="#111" stroke="#111" stroke-width="0.15" textLength="27.6" lengthAdjust="spacingAndGlyphs">pcFCL</text>
<path d="M290.64,323.92 L291.29,323.92 L291.96,323.93 L292.62,323.92 L293.3,323.91 L293.98,323.89 L294.67,323.87 L295.36,323.83 L296.06,323.79 L296.76,323.74 L297.46,323.68 L298.16,323.61 L298.87,323.53 L299.58,323.44 L300.28,323.34 L300.99,323.23 L301.69,323.11 L302.39,322.97 L303.09,322.82 L303.78,322.66 L304.47,322.49 L305.16,322.3 L305.83,322.1 L306.51,321.88 L307.17,321.65 L307.83,321.41 L308.48,321.15 L309.12,320.87 L309.74,320.57 L310.36,320.26 L310.97,319.94 L311.56,319.59 L312.14,319.23 L312.71,318.85 L313.26,318.44 L313.8,318.02 L314.33,317.59 L314.83,317.13 L315.32,316.65 L315.79,316.15 L316.25,315.63 L316.69,315.1 L317.12,314.55 L317.53,313.99 L317.92,313.41 L318.3,312.83 L318.67,312.23 L319.02,311.62 L319.35,311 L319.68,310.37 L319.99,309.73 L320.28,309.09 L320.56,308.44 L320.83,307.79 L321.09,307.13 L321.34,306.47 L321.57,305.81 L321.79,305.15 L322,304.49 L322.21,303.83 L322.41,303.16 L322.6,302.5 L322.8,301.84 L322.99,301.17 L323.17,300.51 L323.36,299.85 L323.56,299.19 L323.75,298.53 L323.95,297.87 L324.16,297.21 L324.38,296.56 L324.6,295.9 L324.84,295.25 L325.08,294.61 L325.35,293.96 L325.62,293.32 L325.91,292.68 L326.22,292.05 L326.54,291.42 L326.86,290.79 L327.19,290.16 L327.53,289.54 L327.87,288.91 L328.2,288.29 L328.54,287.67 L328.86,287.04 L329.18,286.42 L329.49,285.8 L329.78,285.17 L330.06,284.54 L330.32,283.92 L330.57,283.29 L330.81,282.66 L331.07,282.03 L331.34,281.4 L331.63,280.78 L331.93,280.16 L332.24,279.53 L332.57,278.91 L332.9,278.3 L333.24,277.68 L333.59,277.06 L333.94,276.44 L334.29,275.82 L334.65,275.21 L335,274.59 L335.35,273.97 L335.7,273.34 L336.04,272.72 L336.38,272.1 L336.7,271.47 L337.02,270.84 L337.32,270.21 L337.61,269.57 L337.89,268.94 L338.15,268.3 L338.41,267.65 L338.65,267.01 L338.88,266.36 L339.11,265.71 L339.33,265.06 L339.53,264.41 L339.73,263.75 L339.93,263.09 L340.11,262.43 L340.3,261.77 L340.47,261.11 L340.65,260.45 L340.82,259.78 L340.98,259.11 L341.14,258.44 L341.31,257.77 L341.47,257.1 L341.63,256.43 L341.78,255.75 L341.95,255.08 L342.11,254.4 L342.27,253.73 L342.44,253.05 L342.6,252.37 L342.78,251.69 L342.95,251.01 L343.14,250.33 L343.32,249.65 L343.52,248.97 L343.72,248.29 L343.93,247.61 L344.14,246.93 L344.37,246.25 L344.6,245.57 L344.84,244.89 L345.1,244.21 L345.36,243.53 L345.64,242.85 L345.93,242.17 L346.23,241.49 L346.55,240.82 L346.88,240.14 L347.23,239.49 L347.62,238.89 L348.03,238.37 L348.5,237.96 L349.02,237.68 L349.57,237.56 L350.14,237.62 L350.7,237.85 L351.25,238.2 L351.77,238.64 L352.26,239.1 L352.72,239.6 L353.15,240.11 L353.56,240.65 L353.95,241.21 L354.31,241.79 L354.65,242.38 L354.97,242.99 L355.27,243.62 L355.56,244.26 L355.83,244.9 L356.09,245.56 L356.34,246.23 L356.58,246.9 L356.8,247.58 L357.03,248.26 L357.24,248.94 L357.46,249.63 L357.67,250.31 L357.87,250.99 L358.08,251.67 L358.29,252.35 L358.49,253.03 L358.7,253.7 L358.9,254.38 L359.1,255.05 L359.3,255.72 L359.5,256.39 L359.7,257.06 L359.89,257.73 L360.09,258.4 L360.28,259.07 L360.47,259.74 L360.67,260.4 L360.86,261.07 L361.05,261.73 L361.23,262.4 L361.42,263.06 L361.61,263.73 L361.8,264.39 L361.98,265.06 L362.17,265.72 L362.35,266.39 L362.53,267.05 L362.72,267.72 L362.9,268.38 L363.08,269.05 L363.26,269.71 L363.44,270.38 L363.62,271.05 L363.8,271.72 L363.98,272.39 L364.16,273.06 L364.34,273.73 L364.51,274.4 L364.69,275.08 L364.87,275.75 L365.04,276.43 L365.22,277.11 L365.4,277.79 L365.57,278.47 L365.75,279.15 L365.92,279.83 L366.1,280.51 L366.27,281.19 L366.44,281.87 L366.62,282.56 L366.79,283.24 L366.96,283.92 L367.13,284.6 L367.31,285.29 L367.48,285.97 L367.65,286.65 L367.82,287.32 L367.98,288 L368.15,288.68 L368.32,289.35 L368.49,290.02 L368.65,290.7 L368.82,291.37 L368.98,292.03 L369.15,292.7 L369.31,293.37 L369.48,294.04 L369.64,294.7 L369.8,295.37 L369.97,296.04 L370.13,296.71 L370.3,297.37 L370.46,298.04 L370.63,298.71 L370.8,299.38 L370.97,300.06 L371.13,300.73 L371.3,301.41 L371.48,302.09 L371.65,302.77 L371.82,303.45 L372,304.13 L372.18,304.81 L372.36,305.5 L372.55,306.18 L372.74,306.86 L372.94,307.54 L373.14,308.22 L373.35,308.9 L373.57,309.57 L373.8,310.24 L374.04,310.9 L374.28,311.56 L374.54,312.21 L374.8,312.85 L375.08,313.49 L375.37,314.12 L375.67,314.74 L375.99,315.36 L376.32,315.96 L376.66,316.55 L377.02,317.14 L377.4,317.71 L377.79,318.27 L378.2,318.82 L378.63,319.35 L379.07,319.87 L379.54,320.38 L380.02,320.87 L380.53,321.35 L381.05,321.81 L381.6,322.26 L382.17,322.69 L382.76,323.1 L383.38,323.49" fill="none" stroke="#000" stroke-width="2"/>
<path d="M290.62,324.36 L291.21,324.27 L291.8,324.2 L292.4,324.14 L293,324.1 L293.61,324.06 L294.23,324.03 L294.85,324.01 L295.48,323.99 L296.1,323.98 L296.74,323.98 L297.37,323.97 L298.01,323.97 L298.64,323.97 L299.28,323.96 L299.92,323.95 L300.56,323.94 L301.19,323.92 L301.83,323.89 L302.46,323.85 L303.09,323.81 L303.72,323.75 L304.34,323.68 L304.96,323.6 L305.57,323.5 L306.18,323.38 L306.78,323.25 L307.37,323.09 L307.96,322.92 L308.54,322.72 L309.11,322.51 L309.67,322.27 L310.23,322.01 L310.77,321.73 L311.31,321.44 L311.83,321.12 L312.35,320.79 L312.86,320.45 L313.35,320.08 L313.84,319.7 L314.32,319.31 L314.78,318.9 L315.24,318.48 L315.68,318.05 L316.11,317.61 L316.53,317.15 L316.94,316.68 L317.34,316.21 L317.73,315.72 L318.1,315.23 L318.46,314.73 L318.81,314.22 L319.15,313.7 L319.48,313.18 L319.8,312.65 L320.11,312.12 L320.42,311.58 L320.71,311.03 L321.01,310.49 L321.3,309.94 L321.58,309.38 L321.86,308.83 L322.14,308.27 L322.42,307.71 L322.69,307.15 L322.97,306.59 L323.25,306.03 L323.52,305.47 L323.8,304.91 L324.09,304.35 L324.37,303.8 L324.66,303.25 L324.96,302.7 L325.26,302.15 L325.56,301.6 L325.86,301.06 L326.16,300.51 L326.46,299.97 L326.76,299.43 L327.06,298.88 L327.35,298.34 L327.65,297.79 L327.93,297.24 L328.21,296.69 L328.49,296.14 L328.75,295.59 L329.01,295.03 L329.26,294.46 L329.5,293.9 L329.73,293.33 L329.95,292.75 L330.16,292.17 L330.35,291.59 L330.54,291 L330.72,290.41 L330.9,289.82 L331.07,289.22 L331.24,288.63 L331.41,288.03 L331.58,287.43 L331.75,286.84 L331.92,286.24 L332.09,285.64 L332.27,285.05 L332.45,284.45 L332.65,283.86 L332.85,283.28 L333.06,282.69 L333.29,282.12 L333.52,281.54 L333.77,280.97 L334.03,280.4 L334.3,279.84 L334.58,279.28 L334.86,278.73 L335.15,278.17 L335.45,277.62 L335.75,277.07 L336.05,276.52 L336.35,275.97 L336.65,275.42 L336.95,274.87 L337.24,274.33 L337.53,273.77 L337.81,273.22 L338.08,272.67 L338.35,272.11 L338.6,271.55 L338.84,270.99 L339.07,270.43 L339.29,269.86 L339.49,269.28 L339.68,268.71 L339.86,268.13 L340.04,267.54 L340.21,266.96 L340.38,266.37 L340.54,265.78 L340.7,265.18 L340.86,264.59 L341.03,263.99 L341.2,263.39 L341.37,262.79 L341.56,262.19 L341.75,261.59 L341.95,260.99 L342.16,260.39 L342.39,259.78 L342.64,259.18 L342.9,258.58 L343.18,257.99 L343.47,257.41 L343.79,256.84 L344.12,256.29 L344.48,255.76 L344.85,255.26 L345.25,254.79 L345.67,254.36 L346.11,253.96 L346.57,253.61 L347.06,253.3 L347.58,253.04 L348.11,252.84 L348.67,252.69 L349.26,252.59 L349.85,252.54 L350.46,252.53 L351.08,252.57 L351.7,252.65 L352.33,252.76 L352.96,252.91 L353.58,253.09 L354.2,253.29 L354.8,253.53 L355.39,253.79 L355.97,254.07 L356.53,254.37 L357.07,254.68 L357.61,255.01 L358.13,255.35 L358.64,255.7 L359.15,256.05 L359.65,256.41 L360.15,256.78 L360.64,257.15 L361.12,257.54 L361.58,257.93 L362.04,258.33 L362.48,258.75 L362.91,259.18 L363.32,259.62 L363.71,260.08 L364.09,260.55 L364.44,261.04 L364.78,261.55 L365.09,262.08 L365.38,262.62 L365.66,263.18 L365.92,263.75 L366.16,264.33 L366.4,264.91 L366.63,265.5 L366.86,266.08 L367.07,266.67 L367.29,267.26 L367.5,267.85 L367.7,268.44 L367.9,269.03 L368.1,269.62 L368.29,270.22 L368.48,270.81 L368.67,271.4 L368.85,272 L369.03,272.59 L369.21,273.19 L369.38,273.78 L369.55,274.38 L369.72,274.97 L369.89,275.57 L370.05,276.17 L370.21,276.76 L370.37,277.36 L370.53,277.96 L370.69,278.56 L370.84,279.16 L371,279.76 L371.15,280.36 L371.3,280.96 L371.45,281.56 L371.61,282.16 L371.76,282.76 L371.91,283.36 L372.06,283.96 L372.21,284.56 L372.36,285.16 L372.52,285.76 L372.67,286.36 L372.82,286.96 L372.98,287.57 L373.13,288.17 L373.28,288.77 L373.44,289.37 L373.6,289.97 L373.75,290.57 L373.91,291.18 L374.07,291.78 L374.22,292.38 L374.38,292.98 L374.54,293.58 L374.71,294.18 L374.87,294.78 L375.03,295.38 L375.19,295.98 L375.36,296.58 L375.52,297.18 L375.69,297.78 L375.86,298.38 L376.02,298.98 L376.19,299.57 L376.36,300.17 L376.54,300.77 L376.71,301.36 L376.88,301.96 L377.06,302.55 L377.23,303.15 L377.41,303.74 L377.59,304.33 L377.77,304.93 L377.95,305.52 L378.14,306.11 L378.32,306.7 L378.51,307.29 L378.7,307.88 L378.89,308.46 L379.09,309.05 L379.29,309.63 L379.49,310.21 L379.7,310.79 L379.91,311.37 L380.14,311.95 L380.36,312.52 L380.6,313.09 L380.84,313.66 L381.1,314.23 L381.36,314.79 L381.63,315.35 L381.91,315.91 L382.2,316.46 L382.5,317.01 L382.81,317.56 L383.12,318.11 L383.42,318.66 L383.69,319.21 L383.93,319.78 L384.13,320.35 L384.26,320.94 L384.33,321.55 L384.32,322.17 L384.22,322.82 L384.02,323.5" fill="none" stroke="#000" stroke-width="2.5" stroke-linecap="round" stroke-dasharray="0.15 3.7"/>
<path d="M418.2,191.1 V325" fill="none" stroke="#999" stroke-width="1.3"/>
<path d="M417.6,325 H512.2" fill="none" stroke="#6a6a6a" stroke-width="1.3"/>
<path d="M437,325 v-2 M455.8,325 v-2 M474.6,325 v-2 M493.4,325 v-2 M418.2,291.6 h1.6 M418.2,258.2 h1.6 M418.2,224.8 h1.6 M418.2,191.4 h1.6" fill="none" stroke="#aaa" stroke-width="0.8"/>
<text x="410.42" y="328.6" font-size="10.4" fill="#111" stroke="#111" stroke-width="0.15" textLength="5.38" lengthAdjust="spacingAndGlyphs">0</text>
<text x="396.98" y="295.2" font-size="10.4" fill="#111" stroke="#111" stroke-width="0.15" textLength="18.82" lengthAdjust="spacingAndGlyphs">0.01</text>
<text x="396.98" y="261.8" font-size="10.4" fill="#111" stroke="#111" stroke-width="0.15" textLength="18.82" lengthAdjust="spacingAndGlyphs">0.02</text>
<text x="396.98" y="228.4" font-size="10.4" fill="#111" stroke="#111" stroke-width="0.15" textLength="18.82" lengthAdjust="spacingAndGlyphs">0.03</text>
<text x="396.98" y="195" font-size="10.4" fill="#111" stroke="#111" stroke-width="0.15" textLength="18.82" lengthAdjust="spacingAndGlyphs">0.04</text>
<text x="415.66" y="336.6" font-size="10.4" fill="#111" stroke="#111" stroke-width="0.15" textLength="5.09" lengthAdjust="spacingAndGlyphs">0</text>
<text x="431.91" y="336.6" font-size="10.4" fill="#111" stroke="#111" stroke-width="0.15" textLength="10.18" lengthAdjust="spacingAndGlyphs">20</text>
<text x="450.71" y="336.6" font-size="10.4" fill="#111" stroke="#111" stroke-width="0.15" textLength="10.18" lengthAdjust="spacingAndGlyphs">40</text>
<text x="469.51" y="336.6" font-size="10.4" fill="#111" stroke="#111" stroke-width="0.15" textLength="10.18" lengthAdjust="spacingAndGlyphs">60</text>
<text x="488.31" y="336.6" font-size="10.4" fill="#111" stroke="#111" stroke-width="0.15" textLength="10.18" lengthAdjust="spacingAndGlyphs">80</text>
<text x="504.57" y="336.6" font-size="10.4" fill="#111" stroke="#111" stroke-width="0.15" textLength="15.27" lengthAdjust="spacingAndGlyphs">100</text>
<text x="429.4" y="347.2" font-size="9.4" fill="#111" stroke="#111" stroke-width="0.15" textLength="70.4" lengthAdjust="spacingAndGlyphs">Age at diagnosis</text>
<text x="449.8" y="183.8" font-size="8.6" fill="#111" stroke="#111" stroke-width="0.15" textLength="40.9" lengthAdjust="spacingAndGlyphs">pcDLBCL</text>
<path d="M418.19,323.88 L418.8,323.85 L419.41,323.82 L420.01,323.78 L420.61,323.73 L421.2,323.67 L421.79,323.6 L422.38,323.53 L422.96,323.44 L423.54,323.35 L424.12,323.25 L424.69,323.14 L425.27,323.03 L425.84,322.91 L426.41,322.79 L426.97,322.66 L427.54,322.52 L428.11,322.38 L428.67,322.23 L429.24,322.08 L429.8,321.93 L430.37,321.77 L430.93,321.61 L431.5,321.45 L432.07,321.28 L432.64,321.11 L433.21,320.94 L433.78,320.76 L434.35,320.58 L434.91,320.4 L435.48,320.21 L436.05,320.01 L436.61,319.81 L437.17,319.61 L437.73,319.39 L438.29,319.17 L438.84,318.94 L439.38,318.7 L439.92,318.45 L440.46,318.19 L440.99,317.93 L441.51,317.65 L442.02,317.35 L442.52,317.05 L443.02,316.73 L443.51,316.41 L443.99,316.06 L444.46,315.71 L444.92,315.34 L445.37,314.96 L445.8,314.57 L446.23,314.17 L446.65,313.75 L447.06,313.33 L447.45,312.9 L447.83,312.45 L448.2,312 L448.56,311.53 L448.9,311.06 L449.24,310.58 L449.56,310.09 L449.86,309.59 L450.15,309.08 L450.43,308.57 L450.69,308.04 L450.94,307.52 L451.18,306.98 L451.41,306.44 L451.63,305.89 L451.83,305.34 L452.03,304.79 L452.22,304.23 L452.4,303.66 L452.58,303.09 L452.75,302.52 L452.92,301.95 L453.08,301.38 L453.24,300.8 L453.4,300.22 L453.56,299.64 L453.72,299.07 L453.88,298.49 L454.04,297.91 L454.2,297.33 L454.36,296.75 L454.52,296.17 L454.68,295.59 L454.84,295.02 L455,294.44 L455.16,293.86 L455.32,293.29 L455.49,292.71 L455.65,292.14 L455.81,291.56 L455.98,290.99 L456.14,290.42 L456.31,289.85 L456.47,289.28 L456.64,288.71 L456.8,288.15 L456.97,287.58 L457.14,287.02 L457.31,286.46 L457.48,285.9 L457.65,285.34 L457.82,284.79 L457.99,284.23 L458.16,283.68 L458.34,283.13 L458.51,282.59 L458.68,282.04 L458.86,281.5 L459.03,280.95 L459.2,280.4 L459.38,279.86 L459.55,279.31 L459.72,278.75 L459.88,278.2 L460.05,277.64 L460.21,277.08 L460.38,276.51 L460.54,275.94 L460.69,275.36 L460.85,274.78 L461,274.19 L461.14,273.59 L461.29,272.99 L461.43,272.38 L461.58,271.77 L461.72,271.16 L461.87,270.54 L462.02,269.93 L462.18,269.33 L462.34,268.72 L462.51,268.12 L462.69,267.53 L462.88,266.95 L463.08,266.37 L463.29,265.81 L463.51,265.25 L463.75,264.71 L464,264.19 L464.27,263.68 L464.56,263.19 L464.86,262.72 L465.19,262.26 L465.54,261.83 L465.91,261.42 L466.3,261.04 L466.72,260.68 L467.16,260.34 L467.62,260.04 L468.1,259.76 L468.6,259.52 L469.12,259.32 L469.65,259.14 L470.2,259.01 L470.75,258.91 L471.32,258.86 L471.9,258.85 L472.48,258.88 L473.07,258.94 L473.67,259.02 L474.26,259.11 L474.86,259.21 L475.47,259.31 L476.07,259.4 L476.67,259.48 L477.27,259.53 L477.86,259.54 L478.45,259.52 L479.04,259.47 L479.62,259.38 L480.21,259.27 L480.8,259.16 L481.39,259.03 L481.98,258.91 L482.59,258.79 L483.19,258.69 L483.79,258.61 L484.39,258.54 L484.99,258.51 L485.58,258.51 L486.16,258.54 L486.74,258.62 L487.29,258.74 L487.84,258.92 L488.36,259.15 L488.87,259.44 L489.36,259.76 L489.83,260.12 L490.27,260.51 L490.7,260.91 L491.1,261.34 L491.48,261.77 L491.84,262.22 L492.18,262.68 L492.51,263.16 L492.81,263.64 L493.1,264.14 L493.38,264.65 L493.64,265.17 L493.89,265.7 L494.12,266.24 L494.35,266.78 L494.56,267.33 L494.76,267.89 L494.95,268.46 L495.14,269.03 L495.32,269.6 L495.49,270.18 L495.66,270.76 L495.82,271.35 L495.98,271.93 L496.13,272.52 L496.29,273.11 L496.44,273.7 L496.6,274.29 L496.75,274.87 L496.91,275.46 L497.07,276.04 L497.24,276.62 L497.41,277.19 L497.58,277.76 L497.76,278.33 L497.94,278.89 L498.12,279.45 L498.31,280.01 L498.5,280.56 L498.69,281.12 L498.88,281.67 L499.07,282.22 L499.26,282.77 L499.45,283.33 L499.63,283.88 L499.82,284.43 L500,284.98 L500.18,285.53 L500.36,286.09 L500.53,286.64 L500.7,287.2 L500.86,287.76 L501.02,288.32 L501.17,288.89 L501.32,289.46 L501.45,290.03 L501.59,290.61 L501.71,291.19 L501.83,291.77 L501.95,292.35 L502.06,292.94 L502.18,293.52 L502.29,294.11 L502.4,294.7 L502.51,295.29 L502.63,295.88 L502.74,296.46 L502.86,297.05 L502.98,297.63 L503.11,298.22 L503.24,298.8 L503.38,299.37 L503.52,299.95 L503.67,300.52 L503.83,301.09 L503.98,301.66 L504.15,302.23 L504.32,302.8 L504.49,303.36 L504.67,303.92 L504.85,304.48 L505.04,305.04 L505.23,305.6 L505.42,306.15 L505.62,306.71 L505.82,307.26 L506.03,307.81 L506.24,308.36 L506.45,308.91 L506.66,309.46 L506.88,310.01 L507.1,310.55 L507.33,311.1 L507.55,311.64 L507.78,312.19 L508.01,312.73 L508.24,313.27 L508.48,313.82 L508.72,314.36 L508.95,314.9 L509.19,315.44 L509.44,315.98 L509.68,316.52 L509.92,317.06 L510.17,317.6 L510.41,318.14 L510.66,318.68 L510.91,319.22 L511.15,319.77 L511.4,320.31" fill="none" stroke="#000" stroke-width="2"/>
<path d="M418.26,324.36 L418.9,324.29 L419.54,324.22 L420.19,324.17 L420.86,324.13 L421.53,324.1 L422.21,324.07 L422.9,324.05 L423.59,324.03 L424.29,324.02 L425,324.02 L425.71,324.01 L426.42,324.01 L427.14,324 L427.86,324 L428.59,324 L429.31,323.99 L430.04,323.98 L430.76,323.96 L431.49,323.94 L432.21,323.91 L432.93,323.87 L433.65,323.83 L434.37,323.77 L435.08,323.71 L435.79,323.63 L436.5,323.54 L437.19,323.44 L437.89,323.32 L438.57,323.19 L439.25,323.04 L439.92,322.87 L440.58,322.69 L441.23,322.48 L441.88,322.25 L442.51,322.01 L443.13,321.74 L443.73,321.44 L444.33,321.13 L444.92,320.79 L445.49,320.43 L446.05,320.06 L446.61,319.66 L447.15,319.25 L447.69,318.82 L448.21,318.38 L448.73,317.92 L449.23,317.45 L449.73,316.97 L450.22,316.47 L450.7,315.97 L451.17,315.45 L451.63,314.93 L452.09,314.39 L452.54,313.85 L452.98,313.31 L453.42,312.75 L453.85,312.2 L454.27,311.64 L454.69,311.07 L455.1,310.5 L455.5,309.92 L455.9,309.34 L456.29,308.76 L456.67,308.17 L457.05,307.58 L457.42,306.99 L457.79,306.39 L458.15,305.79 L458.5,305.18 L458.85,304.58 L459.19,303.97 L459.53,303.35 L459.86,302.74 L460.18,302.12 L460.5,301.5 L460.82,300.88 L461.13,300.26 L461.43,299.63 L461.74,299.01 L462.04,298.38 L462.33,297.75 L462.63,297.13 L462.92,296.5 L463.22,295.87 L463.51,295.24 L463.8,294.61 L464.1,293.98 L464.39,293.36 L464.69,292.73 L464.99,292.1 L465.29,291.48 L465.6,290.86 L465.91,290.24 L466.22,289.62 L466.54,289 L466.86,288.39 L467.19,287.78 L467.53,287.17 L467.87,286.57 L468.22,285.97 L468.57,285.37 L468.94,284.78 L469.31,284.2 L469.7,283.62 L470.09,283.04 L470.49,282.48 L470.91,281.92 L471.33,281.36 L471.77,280.81 L472.22,280.27 L472.68,279.74 L473.15,279.22 L473.63,278.7 L474.11,278.18 L474.59,277.66 L475.07,277.14 L475.55,276.62 L476.01,276.09 L476.46,275.55 L476.89,275.01 L477.31,274.45 L477.7,273.89 L478.07,273.3 L478.41,272.7 L478.72,272.09 L479.01,271.46 L479.27,270.82 L479.53,270.17 L479.77,269.52 L480.01,268.86 L480.24,268.2 L480.48,267.54 L480.72,266.88 L480.95,266.22 L481.18,265.56 L481.42,264.9 L481.65,264.24 L481.88,263.58 L482.11,262.92 L482.34,262.25 L482.57,261.59 L482.79,260.93 L483.02,260.26 L483.24,259.6 L483.46,258.94 L483.68,258.27 L483.9,257.61 L484.11,256.94 L484.33,256.28 L484.54,255.61 L484.75,254.95 L484.96,254.28 L485.16,253.62 L485.36,252.95 L485.56,252.29 L485.76,251.62 L485.95,250.96 L486.14,250.29 L486.33,249.62 L486.52,248.96 L486.7,248.29 L486.88,247.63 L487.05,246.96 L487.23,246.3 L487.4,245.63 L487.57,244.97 L487.75,244.3 L487.92,243.63 L488.11,242.96 L488.3,242.28 L488.5,241.6 L488.71,240.92 L488.93,240.23 L489.17,239.54 L489.42,238.85 L489.69,238.16 L490,237.48 L490.34,236.83 L490.73,236.21 L491.18,235.64 L491.68,235.14 L492.21,234.74 L492.77,234.47 L493.32,234.36 L493.86,234.43 L494.37,234.7 L494.84,235.11 L495.27,235.65 L495.66,236.28 L495.99,236.96 L496.27,237.68 L496.49,238.4 L496.67,239.13 L496.83,239.85 L496.97,240.56 L497.12,241.27 L497.28,241.96 L497.46,242.64 L497.64,243.31 L497.83,243.98 L498.02,244.64 L498.21,245.31 L498.39,245.97 L498.57,246.64 L498.74,247.31 L498.91,247.98 L499.07,248.65 L499.22,249.33 L499.38,250 L499.53,250.68 L499.67,251.36 L499.81,252.04 L499.95,252.72 L500.08,253.4 L500.21,254.09 L500.34,254.77 L500.46,255.45 L500.58,256.14 L500.7,256.83 L500.82,257.51 L500.94,258.2 L501.05,258.89 L501.17,259.58 L501.28,260.27 L501.39,260.96 L501.5,261.65 L501.61,262.34 L501.72,263.03 L501.83,263.72 L501.94,264.41 L502.05,265.1 L502.16,265.79 L502.27,266.48 L502.38,267.16 L502.49,267.85 L502.61,268.54 L502.72,269.23 L502.84,269.92 L502.96,270.6 L503.07,271.29 L503.19,271.98 L503.31,272.66 L503.44,273.35 L503.56,274.03 L503.68,274.72 L503.81,275.4 L503.93,276.09 L504.06,276.77 L504.19,277.46 L504.32,278.14 L504.45,278.82 L504.58,279.51 L504.71,280.19 L504.84,280.87 L504.98,281.56 L505.11,282.24 L505.25,282.92 L505.39,283.6 L505.53,284.28 L505.66,284.97 L505.8,285.65 L505.95,286.33 L506.09,287.01 L506.23,287.69 L506.37,288.37 L506.52,289.05 L506.67,289.73 L506.81,290.41 L506.96,291.1 L507.11,291.78 L507.26,292.46 L507.41,293.14 L507.56,293.82 L507.71,294.5 L507.86,295.18 L508.01,295.86 L508.16,296.54 L508.32,297.22 L508.47,297.9 L508.62,298.58 L508.78,299.25 L508.93,299.93 L509.09,300.61 L509.24,301.29 L509.39,301.97 L509.55,302.65 L509.7,303.33 L509.86,304.01 L510.01,304.69 L510.16,305.37 L510.32,306.04 L510.47,306.72 L510.62,307.4 L510.77,308.08 L510.92,308.76 L511.07,309.44 L511.22,310.11 L511.37,310.79 L511.52,311.47" fill="none" stroke="#000" stroke-width="2.5" stroke-linecap="round" stroke-dasharray="0.15 3.7"/>
<text x="-0.7" y="184.3" font-size="10.4" font-weight="bold" stroke="#000" stroke-width="0.5" textLength="7.35" lengthAdjust="spacingAndGlyphs">E</text>
<text x="142.2" y="184.3" font-size="10.4" font-weight="bold" stroke="#000" stroke-width="0.5" textLength="6.74" lengthAdjust="spacingAndGlyphs">F</text>
<text x="264.2" y="184.3" font-size="10.4" font-weight="bold" stroke="#000" stroke-width="0.5" textLength="8.58" lengthAdjust="spacingAndGlyphs">G</text>
<text x="386.2" y="184.3" font-size="10.4" font-weight="bold" stroke="#000" stroke-width="0.5" textLength="7.96" lengthAdjust="spacingAndGlyphs">H</text>
<text transform="translate(7.6,295.5) rotate(-90)" font-size="9.1" fill="#111" stroke="#111" stroke-width="0.15" textLength="75.2" lengthAdjust="spacingAndGlyphs">Relative frequency</text>
<path d="M66.1,195.9 V225.2 H124.9" fill="none" stroke="#8c8c8c" stroke-width="1"/>
<path d="M71.3,203.4 H98.7" stroke="#000" stroke-width="2"/>
<path d="M72.2,217.1 H98.5" stroke="#000" stroke-width="2.5" stroke-linecap="round" stroke-dasharray="0.15 3.52"/>
<text x="101.8" y="207.8" font-size="10.2" fill="#111" stroke="#111" stroke-width="0.5" textLength="14.6" lengthAdjust="spacingAndGlyphs">Male</text>
<text x="101.8" y="221.7" font-size="10.2" fill="#111" stroke="#111" stroke-width="0.5" textLength="23.9" lengthAdjust="spacingAndGlyphs">Female</text>
</svg></body></html>
